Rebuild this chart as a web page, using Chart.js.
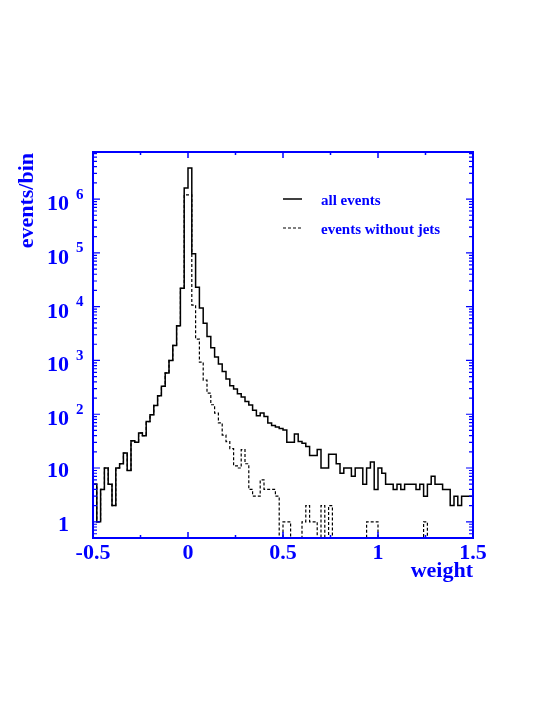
<!DOCTYPE html>
<html>
<head>
<meta charset="utf-8">
<script src="https://cdn.jsdelivr.net/npm/chart.js@4.4.0/dist/chart.umd.min.js"></script>
<style>
    html, body { margin: 0; padding: 0; background: #ffffff; }
    canvas { display: block; }
</style>
</head>
<body>
<canvas id="istogramma" width="556" height="719"></canvas>
<script>
// bin da 0.02 tra -0.5 e 1.5
const inizioBin = -0.5;
const larghezzaBin = 0.02;

// tutti gli eventi (linea continua)
const tuttiEventi = [
    5, 1, 4, 10, 5, 2, 10, 12, 19, 9,
    32, 30, 45, 40, 73, 98, 146, 220, 330, 585,
    1000, 1900, 4400, 22000, 1600000, 3800000, 96000, 23000, 9400, 4900,
    2800, 1720, 1160, 860, 625, 450, 340, 295, 240, 210,
    173, 148, 118, 94, 105, 91, 69, 62, 58, 54,
    51, 30, 30, 43, 31, 29, 25, 17, 17, 22,
    10, 10, 18, 18, 12, 8, 10, 10, 7, 10,
    10, 5, 10, 13, 4, 10, 8, 5, 5, 4,
    5, 4, 5, 5, 5, 4, 5, 3, 5, 7,
    5, 5, 4, 4, 2, 3, 2, 3, 3, 3
];

// eventi senza jet (linea tratteggiata), 0 = bin vuoto
const eventiSenzaJet = [
    5, 1, 4, 10, 5, 2, 10, 12, 19, 9,
    32, 30, 45, 40, 73, 98, 146, 220, 330, 585,
    1000, 1900, 4400, 22000, 1200000, 1200000, 10700, 2500, 930, 430,
    247, 150, 105, 69, 41, 31, 23, 11, 10, 22,
    12, 4, 3, 3, 6, 4, 4, 4, 3, 0,
    1, 1, 0, 0, 0, 1, 2, 1, 1, 0,
    2, 0, 2, 0, 0, 0, 0, 0, 0, 0,
    0, 0, 1, 1, 1, 0, 0, 0, 0, 0,
    0, 0, 0, 0, 0, 0, 0, 1, 0, 0,
    0, 0, 0, 0, 0, 0, 0, 0, 0, 0
];

const etichetteX = [-0.5, 0, 0.5, 1, 1.5];
const decadiY = [1, 10, 100, 1000, 10000, 100000, 1000000];
const nomiSerie = ["all events", "events without jets"];

const minY = 0.5;
const maxY = 7.5e6;
const blu = "#0000ff";
const carattere = "'Liberation Serif', 'DejaVu Serif', serif";

// punti per il grafico a gradini: i bin vuoti scendono al fondo dell'asse log
const aGradini = (valori) => {
    const punti = [{ x: inizioBin, y: minY }];
    valori.forEach((v, i) => {
        punti.push({ x: inizioBin + i * larghezzaBin, y: v > 0 ? v : minY });
    });
    punti.push({ x: inizioBin + valori.length * larghezzaBin, y: minY });
    return punti;
};

// cornice blu, tacche, etichette e legenda
const cornice = {
    id: "cornice",
    afterDatasetsDraw(chart) {
        const { ctx, chartArea } = chart;
        const { left, right, top, bottom } = chartArea;
        const sx = chart.scales.x;
        const sy = chart.scales.y;
        ctx.save();
        ctx.strokeStyle = blu;
        ctx.fillStyle = blu;

        // tacche asse x (sopra e sotto)
        ctx.lineWidth = 1.5;
        for (let k = 0; k <= 8; k++) {
            const v = -0.5 + k * 0.25;
            const px = sx.getPixelForValue(v);
            const lung = k % 2 === 0 ? 6 : 3;
            ctx.beginPath();
            ctx.moveTo(px, bottom);
            ctx.lineTo(px, bottom - lung);
            ctx.moveTo(px, top);
            ctx.lineTo(px, top + lung);
            ctx.stroke();
        }

        // tacche asse y (sinistra e destra)
        ctx.lineWidth = 1.2;
        for (let e = -1; e <= 6; e++) {
            for (let m = 1; m <= 9; m++) {
                const v = m * Math.pow(10, e);
                if (v < minY || v > maxY) continue;
                const py = sy.getPixelForValue(v);
                const lung = m === 1 ? 7 : 4;
                ctx.beginPath();
                ctx.moveTo(left, py);
                ctx.lineTo(left + lung, py);
                ctx.moveTo(right, py);
                ctx.lineTo(right - lung, py);
                ctx.stroke();
            }
        }

        // cornice
        ctx.lineWidth = 2;
        ctx.strokeRect(left, top, right - left, bottom - top);

        // etichette x
        ctx.font = "bold 22px " + carattere;
        ctx.textAlign = "center";
        ctx.textBaseline = "alphabetic";
        etichetteX.forEach((v) => {
            ctx.fillText(String(v), sx.getPixelForValue(v), bottom + 21);
        });
        ctx.textAlign = "right";
        ctx.fillText("weight", right, bottom + 39);

        // etichette y
        decadiY.forEach((v) => {
            const py = sy.getPixelForValue(v);
            const esp = Math.round(Math.log10(v));
            ctx.font = "bold 22px " + carattere;
            ctx.textAlign = "right";
            if (esp >= 2) {
                ctx.fillText("10", left - 24, py + 11);
                ctx.font = "bold 15px " + carattere;
                ctx.textAlign = "left";
                ctx.fillText(String(esp), left - 17, py - 0.5);
            } else {
                ctx.fillText(String(v), left - 24, py + 9);
            }
        });

        // titolo asse y
        ctx.save();
        ctx.font = "bold 22px " + carattere;
        ctx.translate(left - 60, top + 1);
        ctx.rotate(-Math.PI / 2);
        ctx.textAlign = "right";
        ctx.fillText("events/bin", 0, 0);
        ctx.restore();

        // legenda
        ctx.font = "bold 15px " + carattere;
        ctx.textAlign = "left";
        chart.data.datasets.forEach((ds, i) => {
            const y = top + 47 + i * 29;
            ctx.save();
            ctx.strokeStyle = ds.borderColor;
            ctx.lineWidth = ds.borderWidth;
            ctx.setLineDash(ds.borderDash || []);
            ctx.beginPath();
            ctx.moveTo(left + 190, y);
            ctx.lineTo(left + 209, y);
            ctx.stroke();
            ctx.restore();
            ctx.fillText(nomiSerie[i], left + 228, y + 5.5);
        });

        ctx.restore();
    },
};

const ctx = document.getElementById("istogramma").getContext("2d");
new Chart(ctx, {
    type: "line",
    data: {
        datasets: [
            {
                label: nomiSerie[0],
                data: aGradini(tuttiEventi),
                borderColor: "#000000",
                borderWidth: 1.5,
                stepped: "before",
                pointRadius: 0,
                fill: false,
            },
            {
                label: nomiSerie[1],
                data: aGradini(eventiSenzaJet),
                borderColor: "#000000",
                borderWidth: 1.2,
                borderDash: [3, 2],
                stepped: "before",
                pointRadius: 0,
                fill: false,
            },
        ],
    },
    options: {
        responsive: false,
        animation: false,
        devicePixelRatio: 1,
        layout: { padding: { left: 93, right: 83, top: 152, bottom: 181 } },
        plugins: {
            legend: { display: false },
            tooltip: { enabled: false },
        },
        scales: {
            x: { type: "linear", min: -0.5, max: 1.5, display: false },
            y: { type: "logarithmic", min: minY, max: maxY, display: false },
        },
    },
    plugins: [cornice],
});
</script>
</body>
</html>
